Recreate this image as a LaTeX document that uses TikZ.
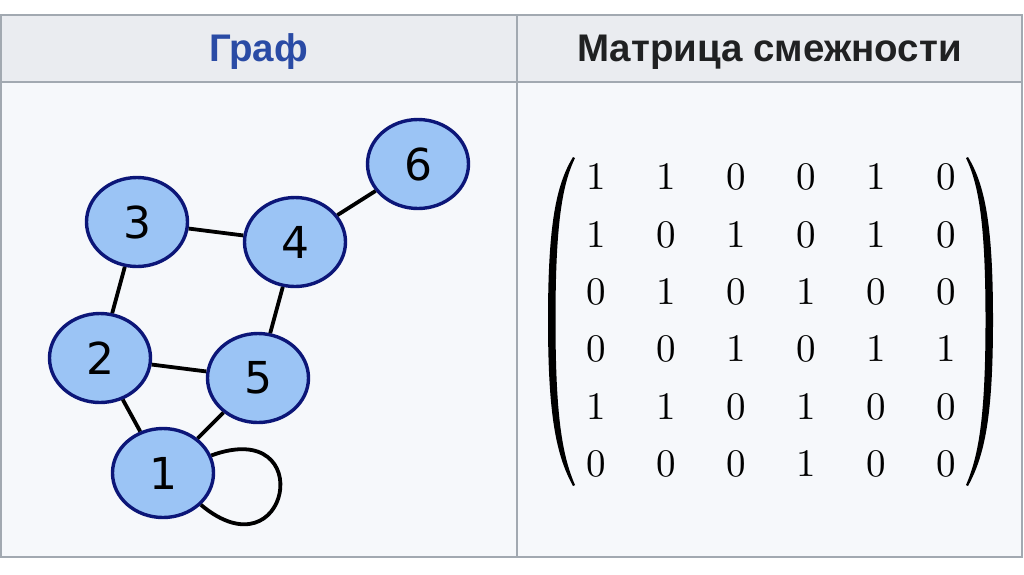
\documentclass[tikz,border=0pt]{standalone}
\usepackage{fontspec}
\newfontfamily\headfont{Liberation Sans}
\newfontfamily\vertexfont{DejaVu Sans}
\newfontfamily\entryfont{lmroman10-regular}[Extension=.otf]
\usetikzlibrary{shapes.geometric,matrix}
\definecolor{wkborder}{RGB}{162,169,177}
\definecolor{wkhead}{RGB}{234,236,240}
\definecolor{wkcell}{RGB}{246,248,251}
\definecolor{wklink}{RGB}{42,75,165}
\definecolor{wktext}{RGB}{32,33,34}
\definecolor{vxfill}{RGB}{155,196,245}
\definecolor{vxnavy}{RGB}{12,22,120}

\tikzset{
  vertex/.style={ellipse, draw=vxnavy, fill=vxfill, line width=3.4pt, minimum width=101pt, minimum height=89pt, inner sep=0pt, font=\vertexfont\fontsize{44}{44}\selectfont},
  link/.style={line width=3.8pt, black},
  headtext/.style={anchor=base, font=\headfont\bfseries\fontsize{38.5}{38.5}\selectfont},
  gridline/.style={draw=wkborder, line width=1.6pt},
  paren/.style={fill=black}
}

\begin{document}
\begin{tikzpicture}[x=1pt,y=-1pt]
  \useasboundingbox (0,0) rectangle (1024,574);
  \fill[white] (0,0) rectangle (1024,574);

  % table frame
  \fill[wkhead] (0,15) rectangle (1022,82);
  \fill[wkcell] (0,82) rectangle (1022,557);
  \draw[gridline] (0.8,15) rectangle (1022,557);
  \draw[gridline] (0,82) -- (1022,82);
  \draw[gridline] (517,15) -- (517,557);

  \node[headtext, text=wklink] (hgraph) at (258.5,61) {Граф};
  \node[headtext, text=wktext] (hmatrix) at (769.5,61) {Матрица смежности};

  % graph
  \node[vertex] (v6) at (418,164) {6};
  \node[vertex] (v3) at (137,222) {3};
  \node[vertex] (v4) at (295,242) {4};
  \node[vertex] (v2) at (100,358) {2};
  \node[vertex] (v5) at (258,378) {5};
  \node[vertex] (v1) at (163,473) {1};

  \draw[link] (v3) -- (v4);
  \draw[link] (v4) -- (v6);
  \draw[link] (v3) -- (v2);
  \draw[link] (v4) -- (v5);
  \draw[link] (v2) -- (v5);
  \draw[link] (v2) -- (v1);
  \draw[link] (v1) -- (v5);
  \draw[link] (v1) to[loop, out=20, in=-40, min distance=115pt] (v1);

  % adjacency matrix
  \matrix (adj) [matrix of nodes,
    nodes={minimum width=40pt, minimum height=40pt, inner sep=0pt},
    column sep=30pt, row sep=17pt, inner sep=0pt,
    font=\entryfont\fontsize{39}{39}\selectfont] at (771,320.5) {
    1 & 1 & 0 & 0 & 1 & 0 \\
    1 & 0 & 1 & 0 & 1 & 0 \\
    0 & 1 & 0 & 1 & 0 & 0 \\
    0 & 0 & 1 & 0 & 1 & 1 \\
    1 & 1 & 0 & 1 & 0 & 0 \\
    0 & 0 & 0 & 1 & 0 & 0 \\
  };
  % brackets
  \fill[paren] (573,157) .. controls (556,185) and (548,225) .. (548,320)
    .. controls (548,415) and (556,455) .. (573,486)
    -- (575,485) .. controls (562,455) and (555.5,415) .. (555.5,320)
    .. controls (555.5,225) and (562,185) .. (575,158) -- cycle;
  \fill[paren] (968,157) .. controls (985,185) and (993,225) .. (993,320)
    .. controls (993,415) and (985,455) .. (968,486)
    -- (966,485) .. controls (979,455) and (985.5,415) .. (985.5,320)
    .. controls (985.5,225) and (979,185) .. (966,158) -- cycle;
\end{tikzpicture}
\end{document}
